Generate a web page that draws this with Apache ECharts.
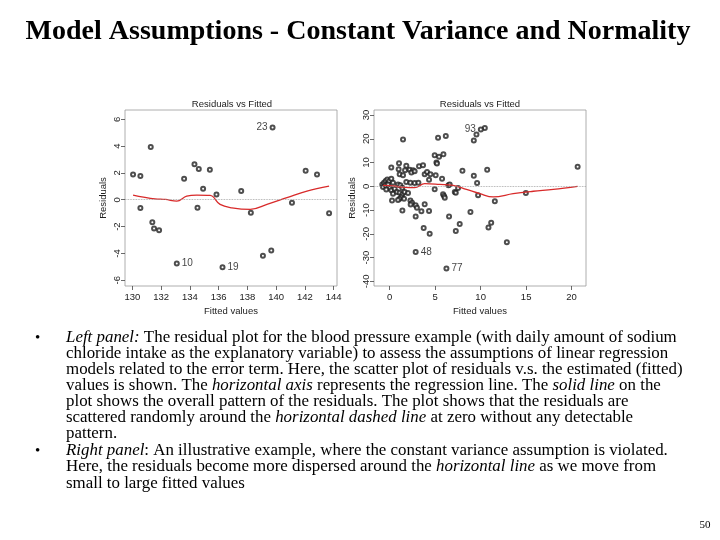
<!DOCTYPE html>
<html>
<head>
<meta charset="utf-8">
<script src="https://cdn.jsdelivr.net/npm/echarts@6/dist/echarts.min.js"></script>
<style>
html,body{margin:0;padding:0;background:#fff;}
#c{width:720px;height:540px;}
</style>
</head>
<body>
<div id="c"></div>
<script>
// ---- Left panel: blood pressure example ----
const leftFitted = [130.05,130.56,130.56,131.28,131.39,131.51,131.86,133.60,134.32,134.62,134.53,134.92,135.39,135.85,137.57,138.24,139.08,139.66,141.10,142.05,142.84,143.68];
const leftResid  = [1.89,1.77,-0.62,3.93,-1.67,-2.14,-2.27,1.57,2.64,2.29,-0.60,0.82,2.24,0.40,0.65,-0.97,-4.18,-3.78,-0.22,2.17,1.89,-1.00];
const leftLabFitted = [139.75,133.09,136.27];
const leftLabResid  = [5.38,-4.75,-5.03];
const leftLabNames  = ['23','10','19'];
const leftSmoothX = [130.05,130.77,131.58,132.30,133.09,133.78,134.48,135.41,136.10,136.92,138.20,139.36,140.75,142.14,143.68];
const leftSmoothY = [0.35,0.20,0.07,0.02,-0.10,0.27,0.35,0.32,-0.35,-0.60,-0.72,-0.35,0.15,0.65,1.02];
const leftXTicks = [130,132,134,136,138,140,142,144];
const leftYTicks = [-6,-4,-2,0,2,4,6];

// ---- Right panel: non-constant variance example ----
const rightFitted = [9.54,9.25,6.17,5.32,1.47,4.95,5.43,5.91,5.14,5.20,1.03,1.83,0.18,0.99,1.69,2.20,2.57,2.39,2.75,3.23,3.67,1.10,1.47,3.85,4.11,4.48,5.06,5.76,8.00,9.25,9.61,10.72,20.66,4.33,1.83,2.28,2.75,3.16,
  -0.81,-0.62,-0.44,-0.26,-0.07,0.18,0.37,-0.73,-0.44,-0.18,0.00,-0.37,0.18,0.55,0.92,1.17,1.39,
  0.37,0.81,1.10,1.39,1.65,2.02,1.28,1.10,0.26,0.92,1.58,2.28,2.46,2.31,1.40,2.86,3.00,3.85,3.49,4.33,2.86,3.74,4.40,
  4.95,5.87,5.98,6.06,6.46,6.60,7.16,7.27,7.52,6.53,7.70,7.27,8.88,9.72,11.56,10.86,11.16,12.88,14.97,10.46];
const rightResid = [21.8,19.3,21.2,20.4,19.7,13.1,12.4,13.5,10.0,9.6,9.7,8.6,7.9,7.2,6.7,7.0,6.7,5.8,6.3,8.4,8.9,5.1,4.6,5.1,6.0,5.1,4.6,3.2,6.5,4.4,1.4,7.0,8.2,2.7,1.8,1.5,1.4,1.5,
  0.7,1.5,2.2,2.8,2.1,3.2,1.5,-0.3,0.4,0.7,-0.7,-1.4,-1.7,-1.0,0.7,0.4,-0.6,
  -3.1,-2.4,-2.7,-3.5,-2.4,-2.8,-4.5,-5.2,-6.0,-5.8,-5.2,-6.0,-6.9,-7.7,-10.2,-8.0,-9.0,-7.6,-10.5,-10.4,-12.7,-17.6,-20.0,
  -1.3,-3.4,-4.1,-4.8,0.4,0.7,-2.4,-2.7,-0.7,-12.7,-15.9,-18.8,-10.8,-3.8,-6.3,-17.3,-15.3,-23.6,-2.8,24.5];
const rightLabFitted = [10.02,2.86,6.24];
const rightLabResid  = [23.9,-27.7,-34.6];
const rightLabNames  = ['93','48','77'];
const rightSmoothX = [-0.73,0.00,1.28,2.75,3.85,5.50,6.97,8.44,9.90,11.38,13.58,15.78,17.98,20.66];
const rightSmoothY = [0.4,0.3,-0.3,-0.6,1.1,0.8,0.4,-1.3,-3.1,-4.5,-3.1,-2.1,-1.3,0.0];
const rightXTicks = [0,5,10,15,20];
const rightYTicks = [-40,-30,-20,-10,0,10,20,30];

// ---- Slide text ----
const slideTitle = 'Model Assumptions - Constant Variance and Normality';
const bodyLines = [
  '{i|Left panel:} The residual plot for the blood pressure example (with daily amount of sodium',
  'chloride intake as the explanatory variable) to assess the assumptions of linear regression',
  'models related to the error term. Here, the scatter plot of residuals v.s. the estimated (fitted)',
  'values is shown. The {i|horizontal axis} represents the regression line. The {i|solid line} on the',
  'plot shows the overall pattern of the residuals. The plot shows that the residuals are',
  'scattered randomly around the {i|horizontal dashed line} at zero without any detectable',
  'pattern.',
  '{i|Right panel}: An illustrative example, where the constant variance assumption is violated.',
  'Here, the residuals become more dispersed around the {i|horizontal line} as we move from',
  'small to large fitted values'
];
const bodyLineY = [338,354,370,386,402,418,434,451,467,484];
const bulletY = [338,451];
const pageNumber = '50';

const zip = (a,b) => a.map((v,i)=>[v,b[i]]);
const SANS = '"Liberation Sans", Arial, sans-serif';
const SERIF = '"Liberation Serif", "Times New Roman", serif';
const BODY_SIZE = 16.9;

function xAxisFor(idx, min, max, ticks){
  return {
    type:'value', gridIndex:idx, min:min, max:max,
    name:'Fitted values', nameLocation:'middle', nameGap:20,
    nameTextStyle:{fontFamily:SANS, fontSize:9.5, color:'#222'},
    axisLine:{show:false, onZero:false},
    axisTick:{show:true, inside:false, length:4, customValues:ticks, lineStyle:{color:'#444', width:0.8}},
    axisLabel:{customValues:ticks, fontFamily:SANS, fontSize:9.5, color:'#222', margin:6},
    splitLine:{show:false}
  };
}
function yAxisFor(idx, min, max, ticks){
  return {
    type:'value', gridIndex:idx, min:min, max:max,
    name:'Residuals', nameLocation:'middle', nameGap:17, nameRotate:90,
    nameTextStyle:{fontFamily:SANS, fontSize:9.5, color:'#222'},
    axisLine:{show:false, onZero:false},
    axisTick:{show:true, inside:false, length:4, customValues:ticks, lineStyle:{color:'#444', width:0.8}},
    axisLabel:{customValues:ticks, rotate:90, fontFamily:SANS, fontSize:9.5, color:'#222', margin:3},
    splitLine:{show:false}
  };
}
const zeroLine = {
  silent:true, symbol:['none','none'], label:{show:false},
  lineStyle:{type:'dotted', color:'#999', width:0.8},
  data:[{yAxis:0}]
};
const markStyle = {color:'#222', borderColor:'#222', borderWidth:0.9};
function pts(idx, data){
  return {type:'scatter', xAxisIndex:idx, yAxisIndex:idx, data:data, symbol:'emptyCircle', symbolSize:4,
    itemStyle:markStyle, silent:true, markLine:zeroLine};
}
function labPts(idx, xs, ys, names, positions){
  return {type:'scatter', xAxisIndex:idx, yAxisIndex:idx, symbol:'emptyCircle', symbolSize:4,
    itemStyle:markStyle, silent:true,
    data: xs.map((x,i)=>({value:[x,ys[i]], label:{show:true, formatter:names[i], position:positions[i], distance:2,
      fontFamily:SANS, fontSize:10, color:'#111'}}))};
}
function smooth(idx, xs, ys){
  return {type:'line', xAxisIndex:idx, yAxisIndex:idx, data:zip(xs,ys), smooth:0.4, showSymbol:false, silent:true,
    lineStyle:{color:'#d82a2a', width:1.3}, z:3};
}

const graphics = [
  {type:'text', x:358, y:32, style:{text:slideTitle, font:'bold 28px '+SERIF, fill:'#000', textAlign:'center', textVerticalAlign:'middle'}},
  {type:'text', x:705, y:525, style:{text:pageNumber, font:'11px '+SERIF, fill:'#000', textAlign:'center', textVerticalAlign:'middle'}},
  {type:'text', x:232, y:104, style:{text:'Residuals vs Fitted', font:'9.5px '+SANS, fill:'#222', textAlign:'center', textVerticalAlign:'middle'}},
  {type:'text', x:480, y:104, style:{text:'Residuals vs Fitted', font:'9.5px '+SANS, fill:'#222', textAlign:'center', textVerticalAlign:'middle'}}
];
bulletY.forEach(y=>graphics.push({type:'text', x:35, y:y, style:{text:'•', font:'15px '+SERIF, fill:'#000', textVerticalAlign:'middle'}}));
bodyLines.forEach((t,i)=>graphics.push({type:'text', x:66, y:bodyLineY[i], style:{
  text:t, font:BODY_SIZE+'px '+SERIF, fill:'#000', textVerticalAlign:'middle',
  rich:{i:{fontStyle:'italic', fontFamily:SERIF, fontSize:BODY_SIZE, fill:'#000', color:'#000'}}
}}));

const chart = echarts.init(document.getElementById('c'), null, {renderer:'canvas'});
chart.setOption({
  backgroundColor:'#fff',
  animation:false,
  grid:[
    {left:125, top:110, width:212, height:176, show:true, borderColor:'#999', borderWidth:0.8, backgroundColor:'transparent'},
    {left:374, top:110, width:212, height:176, show:true, borderColor:'#999', borderWidth:0.8, backgroundColor:'transparent'}
  ],
  xAxis:[xAxisFor(0,129.49,144.23,leftXTicks), xAxisFor(1,-1.72,21.58,rightXTicks)],
  yAxis:[yAxisFor(0,-6.43,6.69,leftYTicks), yAxisFor(1,-41.97,32.1,rightYTicks)],
  graphic:graphics,
  series:[
    pts(0, zip(leftFitted,leftResid)),
    labPts(0, leftLabFitted, leftLabResid, leftLabNames, ['left','right','right']),
    smooth(0, leftSmoothX, leftSmoothY),
    pts(1, zip(rightFitted,rightResid)),
    labPts(1, rightLabFitted, rightLabResid, rightLabNames, ['left','right','right']),
    smooth(1, rightSmoothX, rightSmoothY)
  ]
});
</script>
</body>
</html>
